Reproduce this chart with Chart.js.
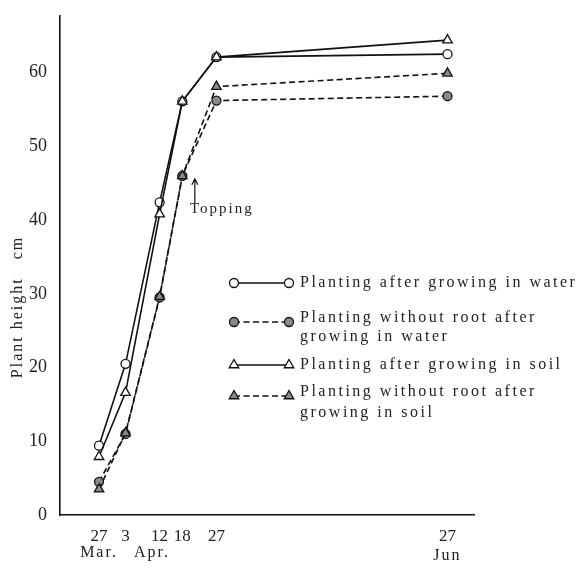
<!DOCTYPE html>
<html>
<head>
<meta charset="utf-8">
<script src="https://cdn.jsdelivr.net/npm/chart.js@4/dist/chart.umd.min.js"></script>
<style>
  html, body { margin: 0; padding: 0; background: #fff; }
  #wrap { width: 582px; height: 569px; }
</style>
</head>
<body>
<div id="wrap"><canvas id="chart" width="582" height="569"></canvas></div>
<script>
// Days counted from 27 March; ticks and months.
const days = [0, 7, 16, 22, 31, 92];
const dayLabels = ['27', '3', '12', '18', '27', '27'];
const monthLabels = ['Mar.', 'Apr.', 'Jun'];
const monthDays = [0, 14, 92];
const yTicks = [0, 10, 20, 30, 40, 50, 60];

const waterRooted = [9.4, 20.5, 42.4, 56.1, 62.1, 62.5];
const waterNoRoot = [4.5, 11.0, 29.5, 46.0, 56.2, 56.8];
const soilRooted = [7.9, 16.6, 40.8, 56.1, 62.1, 64.4];
const soilNoRoot = [3.5, 11.1, 29.6, 46.0, 58.1, 59.9];

const legendLabels = [
  ['Planting after growing in water'],
  ['Planting without root after', 'growing in water'],
  ['Planting after growing in soil'],
  ['Planting without root after', 'growing in soil'],
];
const toppingLabel = 'Topping';
const yTitle = 'Plant height   cm';

const SERIF = '"Liberation Serif", "DejaVu Serif", serif';
const GRAY = '#8a8a8a';

function pts(values) {
  return values.map((v, i) => ({ x: days[i], y: v }));
}

// triangles sit on top of circles where they coincide
const styles = [
  { pointStyle: 'circle', radius: 4.5, fill: '#fff', dash: [], order: 3 },
  { pointStyle: 'circle', radius: 4.5, fill: GRAY, dash: [6, 3.5], order: 2 },
  { pointStyle: 'triangle', radius: 5.5, fill: '#fff', dash: [], order: 1 },
  { pointStyle: 'triangle', radius: 5.5, fill: GRAY, dash: [6, 3.5], order: 0 },
];
const series = [waterRooted, waterNoRoot, soilRooted, soilNoRoot];

const datasets = series.map((vals, i) => ({
  label: legendLabels[i].join(' '),
  data: pts(vals),
  order: styles[i].order,
  borderColor: '#111',
  borderWidth: 1.6,
  borderDash: styles[i].dash,
  pointStyle: styles[i].pointStyle,
  pointRadius: styles[i].radius,
  pointBackgroundColor: styles[i].fill,
  pointBorderColor: '#111',
  pointBorderWidth: 1.3,
  tension: 0,
  clip: false,
}));

// Legend, y title, month names and the topping arrow.
const extras = {
  id: 'extras',
  afterDraw(chart) {
    const { ctx, scales: { x, y } } = chart;
    ctx.save();
    ctx.fillStyle = '#222';
    ctx.letterSpacing = '2px';
    ctx.textBaseline = 'middle';

    // month names under the day ticks
    ctx.font = '16px ' + SERIF;
    ctx.textAlign = 'center';
    monthLabels.forEach((m, i) => {
      ctx.fillText(m, x.getPixelForValue(monthDays[i]), i === 2 ? 556 : 553);
    });

    // y axis title
    ctx.save();
    ctx.translate(18, 307);
    ctx.rotate(-Math.PI / 2);
    ctx.font = '16px ' + SERIF;
    ctx.fillText(yTitle, 0, 0);
    ctx.restore();

    // topping arrow
    const ax = x.getPixelForValue(25.3);
    const aTop = y.getPixelForValue(45.6);
    const aBot = y.getPixelForValue(42.3);
    ctx.strokeStyle = '#111';
    ctx.lineWidth = 1.2;
    ctx.setLineDash([]);
    ctx.beginPath();
    ctx.moveTo(ax, aBot);
    ctx.lineTo(ax, aTop);
    ctx.moveTo(ax - 3, aTop + 6);
    ctx.lineTo(ax, aTop);
    ctx.lineTo(ax + 3, aTop + 6);
    ctx.stroke();
    ctx.font = '15px ' + SERIF;
    ctx.textAlign = 'left';
    ctx.fillText(toppingLabel, 190, 209);

    // legend
    const markerY = [283, 322, 365, 396];
    const textY = [[283], [318, 337], [365], [392, 413]];
    ctx.font = '16px ' + SERIF;
    ctx.letterSpacing = '2.5px';
    legendLabels.forEach((lines, i) => {
      const st = styles[i];
      ctx.strokeStyle = '#111';
      ctx.lineWidth = 1.6;
      ctx.setLineDash(st.dash);
      ctx.beginPath();
      ctx.moveTo(234, markerY[i]);
      ctx.lineTo(289, markerY[i]);
      ctx.stroke();
      ctx.setLineDash([]);
      ctx.lineWidth = 1.3;
      ctx.fillStyle = st.fill;
      [234, 289].forEach(px => {
        Chart.helpers.drawPoint(ctx, {
          pointStyle: st.pointStyle, radius: st.radius, rotation: 0, borderWidth: 1.3,
        }, px, markerY[i]);
      });
      ctx.fillStyle = '#222';
      ctx.textAlign = 'left';
      lines.forEach((t, j) => ctx.fillText(t, 300, textY[i][j]));
    });
    ctx.restore();
  },
};

new Chart(document.getElementById('chart'), {
  type: 'line',
  data: { datasets },
  options: {
    responsive: false,
    animation: false,
    layout: { padding: { top: 4, right: 108, left: 0, bottom: 0 } },
    plugins: { legend: { display: false }, tooltip: { enabled: false } },
    scales: {
      x: {
        type: 'linear',
        min: -10.3,
        max: 99,
        afterFit: (s) => { s.height = 54; },
        afterBuildTicks: (s) => { s.ticks = days.map(v => ({ value: v })); },
        grid: { display: false },
        border: { display: true, color: '#111', width: 1.6 },
        ticks: {
          autoSkip: false,
          maxRotation: 0,
          padding: 3,
          color: '#222',
          font: { family: SERIF, size: 17 },
          callback: (v) => dayLabels[days.indexOf(v)] ?? '',
        },
      },
      y: {
        min: 0,
        max: 67.7,
        afterFit: (s) => { s.width = 60; },
        afterBuildTicks: (s) => { s.ticks = yTicks.map(v => ({ value: v })); },
        grid: { display: false },
        border: { display: true, color: '#111', width: 1.6 },
        ticks: {
          padding: 5,
          color: '#222',
          font: { family: SERIF, size: 18 },
        },
      },
    },
  },
  plugins: [extras],
});
</script>
</body>
</html>
